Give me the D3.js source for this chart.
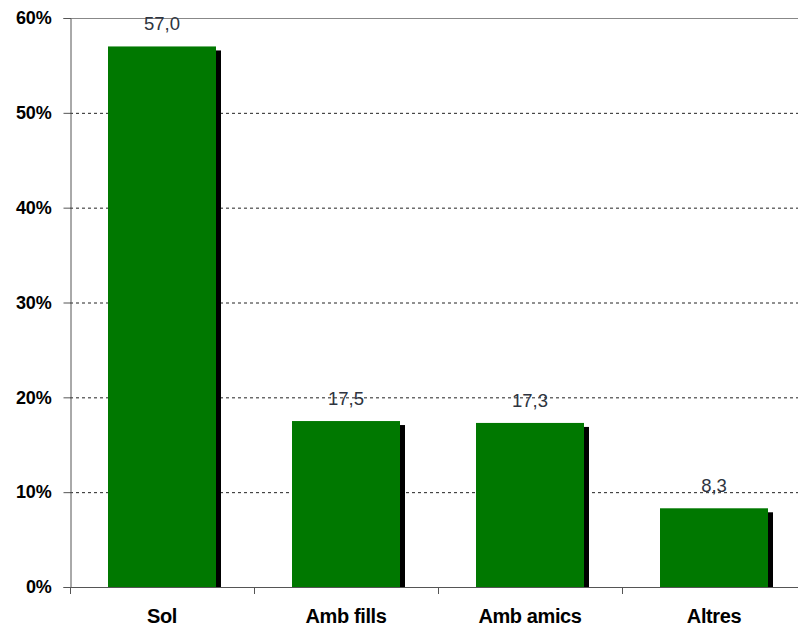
<!DOCTYPE html>
<html><head><meta charset="utf-8">
<script src="https://cdn.jsdelivr.net/npm/d3@7"></script>
<style>body{margin:0;background:#fff}svg{display:block}</style>
</head><body>
<script>
const categories = ["Sol", "Amb fills", "Amb amics", "Altres"];
const values = [57.0, 17.5, 17.3, 8.3];
const valueLabels = ["57,0", "17,5", "17,3", "8,3"];
const yTicks = [0, 10, 20, 30, 40, 50, 60];

(function () {
const W = 798, H = 627;
const mLeft = 70, mRight = 806, mTop = 18, mBottom = 587;
const svg = d3.select("body").append("svg").attr("width", W).attr("height", H);

const x = d3.scaleBand().domain(categories).range([mLeft, mRight]).paddingInner(0).paddingOuter(0);
const y = d3.scaleLinear().domain([0, 60]).range([mBottom, mTop]);

// gridlines
svg.append("g").selectAll("line").data(yTicks.filter(t => t > 0 && t < 60)).join("line")
  .attr("x1", mLeft).attr("x2", W).attr("y1", d => y(d) + 0.5).attr("y2", d => y(d) + 0.5)
  .attr("stroke", "#222").attr("stroke-width", 1).attr("stroke-dasharray", "3,3");
// top border
svg.append("line").attr("x1", mLeft).attr("x2", W).attr("y1", y(60) + 0.5).attr("y2", y(60) + 0.5)
  .attr("stroke", "#888").attr("stroke-width", 1);

const barW = 108;
const bx = d => x(d) + (x.bandwidth() - barW) / 2;
// shadows
svg.append("g").selectAll("rect").data(categories).join("rect")
  .attr("x", d => bx(d) + 5).attr("y", (d, i) => y(values[i]) + 4)
  .attr("width", barW).attr("height", (d, i) => mBottom - y(values[i]) - 4)
  .attr("fill", "#000");
// bars
svg.append("g").selectAll("rect").data(categories).join("rect")
  .attr("x", d => bx(d)).attr("y", (d, i) => y(values[i]))
  .attr("width", barW).attr("height", (d, i) => mBottom - y(values[i]))
  .attr("fill", "#007800");

// value labels
svg.append("g").selectAll("text").data(categories).join("text")
  .attr("x", d => x(d) + x.bandwidth() / 2).attr("y", (d, i) => y(values[i]) - 16)
  .attr("text-anchor", "middle").attr("font-family", "Liberation Sans, Arial, sans-serif")
  .attr("font-size", 18.5).attr("fill", "#2e3440")
  .text((d, i) => valueLabels[i]);

// y axis
const yAxis = d3.axisLeft(y).tickValues(yTicks).tickFormat(d => d + "%").tickSize(7).tickPadding(12);
const ya = svg.append("g").attr("transform", `translate(${mLeft + 0.5},0)`).call(yAxis);
ya.select(".domain").attr("stroke", "#555");
ya.selectAll(".tick line").attr("stroke", "#555");
ya.selectAll("text").attr("font-family", "Liberation Sans, Arial, sans-serif")
  .attr("font-size", 18).attr("font-weight", "bold").attr("letter-spacing", "-0.2px").attr("fill", "#000");

// x axis
svg.append("line").attr("x1", mLeft).attr("x2", W).attr("y1", mBottom + 0.5).attr("y2", mBottom + 0.5).attr("stroke", "#555");
const bounds = [mLeft, ...categories.slice(1).map(c => x(c))];
svg.append("g").selectAll("line").data(bounds).join("line")
  .attr("x1", d => d + 0.5).attr("x2", d => d + 0.5).attr("y1", mBottom).attr("y2", mBottom + 7).attr("stroke", "#555");
svg.append("g").selectAll("text").data(categories).join("text")
  .attr("x", d => x(d) + x.bandwidth() / 2).attr("y", 623)
  .attr("text-anchor", "middle").attr("font-family", "Liberation Sans, Arial, sans-serif")
  .attr("font-size", 20).attr("font-weight", "bold").attr("letter-spacing", "-0.4px").attr("fill", "#000")
  .text(d => d);
})();
</script>
</body></html>
